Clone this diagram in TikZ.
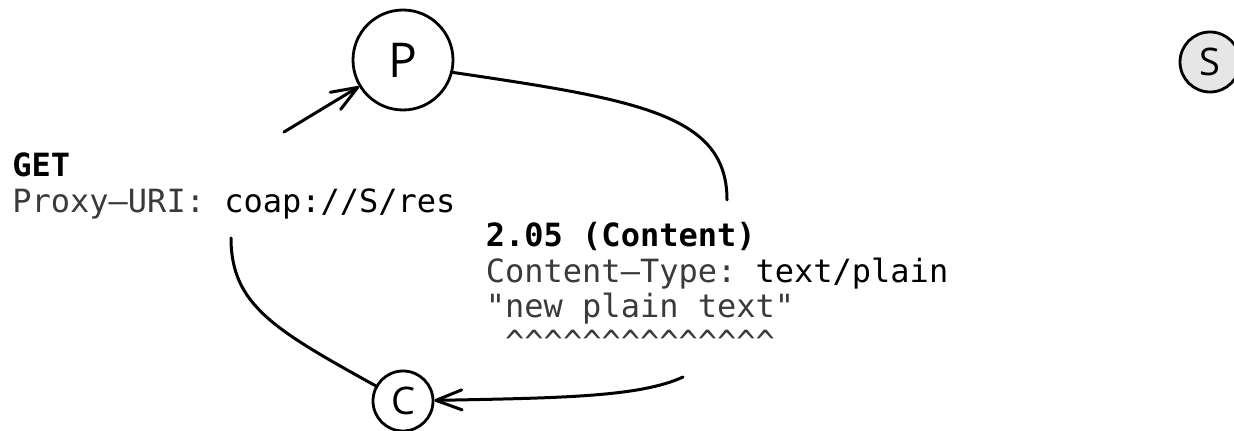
\documentclass[tikz,border=0pt]{standalone}
\usepackage{fontspec}
\newfontfamily\mymono{DejaVu Sans Mono}
\newfontfamily\mysans{Open Sans}
\usetikzlibrary{arrows.meta}
\definecolor{optgray}{HTML}{3A3A3A}
\definecolor{sfill}{HTML}{E6E6E6}
\begin{document}
\begin{tikzpicture}[x=0.5pt,y=-0.5pt,
  peer/.style={circle,draw,line width=1.4pt,inner sep=0pt,font=\mysans\fontsize{19}{22}\selectfont},
  bigpeer/.style={peer,minimum size=50pt,font=\mysans\fontsize{24}{28}\selectfont},
  smallpeer/.style={peer,minimum size=30pt},
  txt/.style={anchor=base west,inner sep=0pt,font=\mymono\fontsize{16}{18}\selectfont},
  btxt/.style={txt,font=\mymono\bfseries\fontsize{16}{18}\selectfont},
  conn/.style={line width=1.5pt,line cap=round},
  arr/.style={conn,-{Straight Barb[length=13pt,width=10pt,line cap=round,line join=round]}}]
\useasboundingbox (0,0) rectangle (1234,431);

% peers
\node[bigpeer] (P) at (403,60) {P};
\node[smallpeer] (C) at (403,401) {C};
\node[smallpeer,fill=sfill] (S) at (1210,62) {S};

% request text
\node[btxt] (get) at (12,177) {GET};
\node[txt] (proxy) at (12,212.5) {\textcolor{optgray}{Proxy–URI:}\ coap://S/res};

% response text
\node[btxt] (code) at (485.5,247) {2.05 (Content)};
\node[txt] (ctype) at (485.5,282.5) {\textcolor{optgray}{Content–Type:}\ text/plain};
\node[txt,text=optgray] (payload) at (485.5,318) {"new plain text"};
\node[txt,text=optgray] (carets) at (504.8,353.5) {\textasciicircum\textasciicircum\textasciicircum\textasciicircum\textasciicircum\textasciicircum\textasciicircum\textasciicircum\textasciicircum\textasciicircum\textasciicircum\textasciicircum\textasciicircum\textasciicircum};

% connector end points
\coordinate (g1) at (284,132);
\coordinate (r1) at (727,200);
\coordinate (q1) at (231,238);
\coordinate (r2) at (683,377);

% connectors
\draw[arr] (g1) -- (P);
\draw[conn] (P.-14) .. controls (640,100) and (727,115) .. (r1);
\draw[conn] (q1) .. controls (231,305) and (275,330) .. (C);
\draw[arr] (r2) .. controls (640,397) and (560,398) .. (C);
\end{tikzpicture}
\end{document}
